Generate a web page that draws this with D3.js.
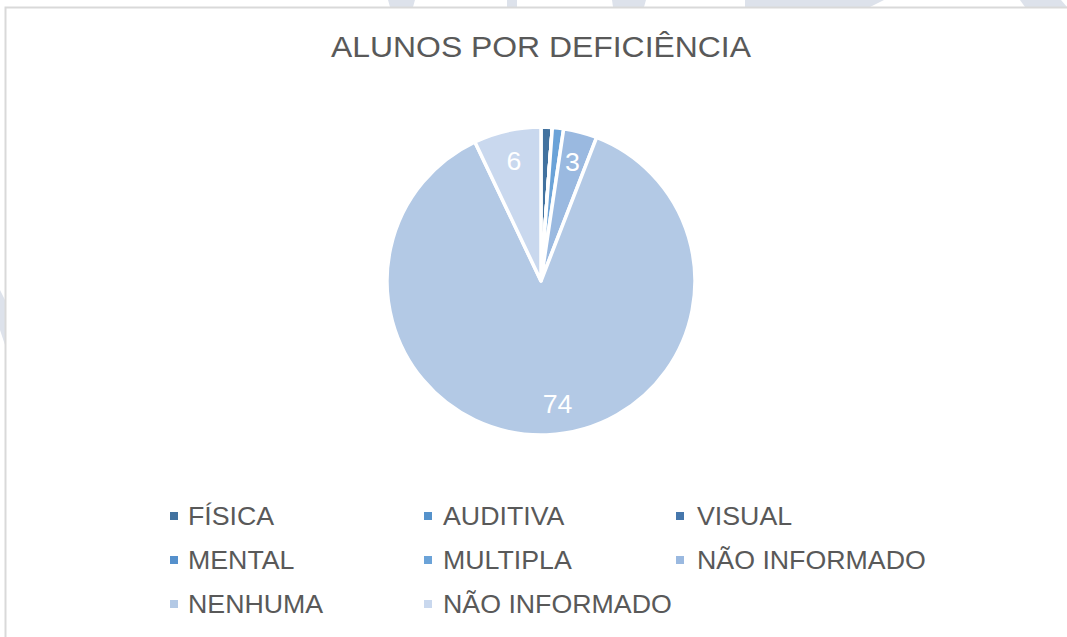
<!DOCTYPE html>
<html>
<head>
<meta charset="utf-8">
<script src="https://cdn.jsdelivr.net/npm/d3@7"></script>
<style>
  body { margin: 0; background: #fff; }
  svg { display: block; font-family: "Liberation Sans", Arial, sans-serif; }
</style>
</head>
<body>
<script>
// data
var categories = ["FÍSICA", "AUDITIVA", "VISUAL", "MENTAL", "MULTIPLA", "NÃO INFORMADO", "NENHUMA", "NÃO INFORMADO"];
var values = [1, 0, 0, 0, 1, 3, 74, 6];
var colors = ["#42729F", "#5592CB", "#4677AC", "#5590CC", "#6BA3D8", "#9AB9E0", "#B3C9E5", "#C9D8EE"];

var width = 1067, height = 637;
var svg = d3.select("body").append("svg")
    .attr("width", width)
    .attr("height", height);

// faint background shapes around the chart frame
var bgShapes = [
  [[388,0],[415,0],[413,7],[390,7]],
  [[507,0],[517,0],[517,7],[507,7]],
  [[612,0],[646,0],[644,7],[613,7]],
  [[745,0],[884,0],[870,7],[745,7]],
  [[1020,0],[1061,0],[1067,7],[1025,7]],
  [[0,290],[5,300],[5,345],[0,330]]
];
svg.selectAll("polygon.bg")
    .data(bgShapes)
    .enter().append("polygon")
    .attr("class", "bg")
    .attr("points", function(d){ return d.map(function(p){ return p.join(","); }).join(" "); })
    .attr("fill", "#DDE2EB");

// chart frame
svg.append("rect")
    .attr("x", 5.5).attr("y", 7.5)
    .attr("width", width + 10).attr("height", height + 10)
    .attr("fill", "#fff")
    .attr("stroke", "#D9D9D9")
    .attr("stroke-width", 2);

// title (slightly wide lettering, like the original)
svg.append("text")
    .attr("transform", "translate(541,57) scale(1.1,1.03)")
    .attr("text-anchor", "middle")
    .attr("fill", "#595959")
    .style("font-size", "29px")
    .text("ALUNOS POR DEFICIÊNCIA");

// pie
var cx = 541, cy = 281, radius = 154;
var pie = d3.pie().sort(null).value(function(d){ return d; });
var arc = d3.arc().innerRadius(0).outerRadius(radius);
var labelArc = d3.arc().innerRadius(radius * 0.8).outerRadius(radius * 0.8);
var arcs = pie(values);

var g = svg.append("g").attr("transform", "translate(" + cx + "," + cy + ")");
g.selectAll("path")
    .data(arcs)
    .enter().append("path")
    .attr("d", arc)
    .attr("fill", function(d, i){ return colors[i]; })
    .attr("stroke", "#fff")
    .attr("stroke-width", 3.5)
    .attr("stroke-linejoin", "round");

g.selectAll("text")
    .data(arcs.filter(function(d){ return d.data >= 2; }))
    .enter().append("text")
    .attr("transform", function(d){
        var c = labelArc.centroid(d);
        if (d.data > 50) c[0] += 12; // excel nudges the big label a bit right
        return "translate(" + c + ") scale(1.07,1)";
    })
    .attr("text-anchor", "middle")
    .attr("dy", "0.36em")
    .attr("fill", "#fff")
    .style("font-size", "25px")
    .text(function(d){ return d.data; });

// legend
var markX = [170, 424, 676], textX = [188, 443, 697], rowY = [516, 560, 604];
var legend = svg.selectAll("g.legend")
    .data(categories)
    .enter().append("g")
    .attr("class", "legend")
    .attr("transform", function(d, i){ return "translate(0," + rowY[Math.floor(i / 3)] + ")"; });
legend.append("rect")
    .attr("x", function(d, i){ return markX[i % 3]; })
    .attr("y", -4)
    .attr("width", 8).attr("height", 8)
    .attr("fill", function(d, i){ return colors[i]; });
legend.append("text")
    .attr("transform", function(d, i){ return "translate(" + textX[i % 3] + ",0) scale(1.07,1.02)"; })
    .attr("dy", "0.36em")
    .attr("fill", "#595959")
    .style("font-size", "25px")
    .text(function(d){ return d; });
</script>
</body>
</html>
